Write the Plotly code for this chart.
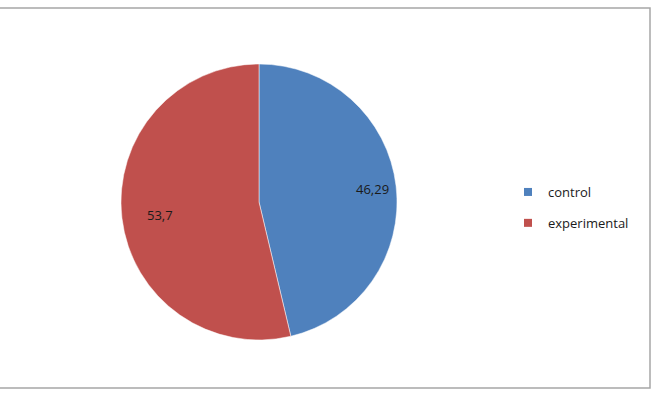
import math
import plotly.graph_objects as go

categories = ["control", "experimental"]
values = [46.29, 53.7]
value_labels = ["46,29", "53,7"]
colors = ["#4F81BD", "#C0504D"]

W, H = 654, 395
FONT = "Open Sans, Liberation Sans, sans-serif"

# pie placement (pixels)
cx, cy, r = 259, 202, 138
label_frac = 0.83

fig = go.Figure()
fig.add_trace(go.Pie(
    labels=categories,
    values=values,
    textinfo="none",
    marker=dict(colors=colors, line=dict(color="#ffffff", width=0.5)),
    sort=False,
    direction="clockwise",
    rotation=0,
    showlegend=False,
    hoverinfo="label+value",
    domain=dict(x=[(cx - r) / W, (cx + r) / W], y=[(H - cy - r) / H, (H - cy + r) / H]),
))

# data labels placed at each slice's mid-angle
total = sum(values)
annotations = []
cum = 0.0
for v, lab in zip(values, value_labels):
    mid = (cum + v / 2) / total * 2 * math.pi
    cum += v
    px = cx + label_frac * r * math.sin(mid)
    py = cy - label_frac * r * math.cos(mid)
    annotations.append(dict(
        x=px / W, y=1 - py / H, xref="paper", yref="paper",
        text=lab, showarrow=False,
        font=dict(family=FONT, size=13, color="#1a1a1a"),
    ))

# legend entries (one per category, matching slice colours)
for cat, col in zip(categories, colors):
    fig.add_trace(go.Scatter(
        x=[None], y=[None], mode="markers", name=cat, legendgroup=cat,
        marker=dict(symbol="square", size=8, color=col),
        showlegend=True,
    ))

fig.update_layout(
    width=W, height=H,
    margin=dict(l=0, r=0, t=0, b=0),
    paper_bgcolor="white", plot_bgcolor="white",
    xaxis=dict(visible=False), yaxis=dict(visible=False),
    annotations=annotations,
    legend=dict(
        x=508 / W, y=(H - 177) / H, xanchor="left", yanchor="top",
        font=dict(family=FONT, size=13, color="#1a1a1a"),
        tracegroupgap=11, itemwidth=30, bgcolor="rgba(0,0,0,0)",
    ),
    shapes=[dict(
        type="rect", xref="paper", yref="paper",
        x0=-0.05, x1=650 / W, y0=1 - 388 / H, y1=1 - 8 / H,
        line=dict(color="#a6a6a6", width=1.5), fillcolor="rgba(0,0,0,0)",
    )],
)

fig.write_html("out.html")
